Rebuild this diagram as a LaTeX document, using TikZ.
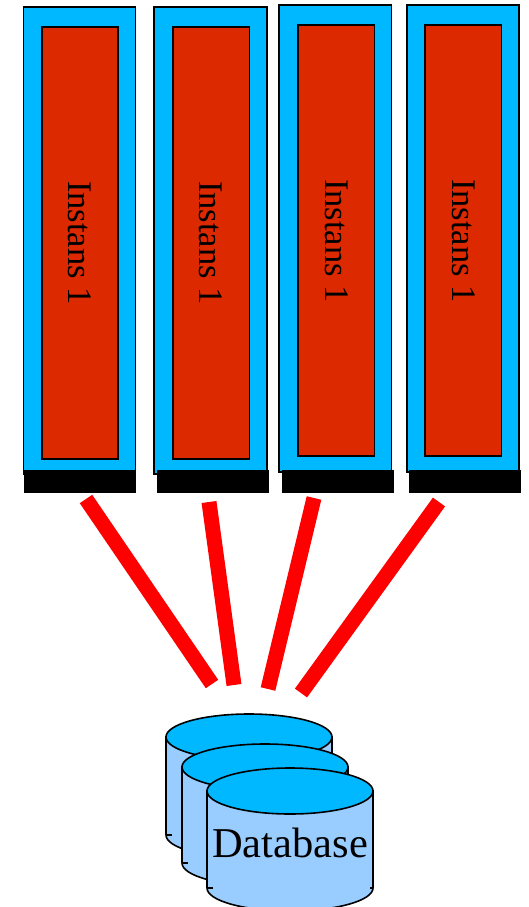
\documentclass[tikz,border=0pt]{standalone}
\usepackage{fontspec}
\setmainfont{Liberation Serif}
\definecolor{cyanblue}{HTML}{00B8FF}
\definecolor{brick}{HTML}{DC2900}
\definecolor{linkred}{HTML}{FF0000}
\definecolor{paleblue}{HTML}{99CCFF}
\begin{document}
\begin{tikzpicture}[x=1pt,y=-1pt,
  outerbox/.style={draw=black,line width=1.6pt,fill=cyanblue},
  innerbox/.style={draw=black,line width=1.6pt,fill=brick},
  basebar/.style={fill=black,draw=none,minimum width=112pt,minimum height=23pt,inner sep=0pt},
  link/.style={draw=linkred,line width=15pt},
  cyl/.style={draw=black,line width=1.6pt},
  lab/.style={rotate=-90,font=\fontsize{34.5}{34.5}\selectfont,inner sep=0pt}]
\useasboundingbox (0,0) rectangle (529,907);
\draw[outerbox] (23.5,7) rectangle (135.5,474);
\draw[innerbox] (42,27) rectangle (118,459);
\draw[outerbox] (154,7) rectangle (267,474);
\draw[innerbox] (173,27) rectangle (249.5,459);
\draw[outerbox] (279,5) rectangle (391.5,472);
\draw[innerbox] (298,25) rectangle (374.5,456);
\draw[outerbox] (407,5) rectangle (519,472);
\draw[innerbox] (425,25) rectangle (501.5,456);
\node[basebar] (bar1) at (79.5,481.5) {};
\node[basebar] (bar2) at (213,481.5) {};
\node[basebar] (bar3) at (338,481.5) {};
\node[basebar] (bar4) at (465,481.5) {};
\node[lab] (i1) at (80,243) {Instans 1};
\node[lab] (i2) at (211,243) {Instans 1};
\node[lab] (i3) at (337,241) {Instans 1};
\node[lab] (i4) at (464,241) {Instans 1};
\coordinate (s1) at (86,499); \coordinate (e1) at (212,684);
\coordinate (s2) at (209,502); \coordinate (e2) at (234,685);
\coordinate (s3) at (314,498); \coordinate (e3) at (268,689);
\coordinate (s4) at (439,502); \coordinate (e4) at (301,693);
\draw[link] (s1) -- (e1);
\draw[link] (s2) -- (e2);
\draw[link] (s3) -- (e3);
\draw[link] (s4) -- (e4);
\foreach \l/\c/\b in {166/737/835,182/767/863,207/791/888}{
  \pgfmathsetmacro{\rr}{\l+166}
  \pgfmathsetmacro{\mm}{\l+83}
  \draw[cyl,fill=paleblue] (\l,\c) -- (\l,\b) arc[start angle=180,end angle=0,x radius=83,y radius=23] -- (\rr,\c) -- cycle;
  \draw[cyl,fill=cyanblue] (\mm,\c) ellipse[x radius=83,y radius=23];
  \draw[cyl,line width=1.2pt] (\l,\b) -- (\l+6,\b);
  \draw[cyl,line width=1.2pt] (\rr,\b) -- (\rr-3,\b);
}
\node[inner sep=0pt,font=\fontsize{42.5}{42.5}\selectfont] (db) at (290,842.5) {Database};
\end{tikzpicture}
\end{document}
